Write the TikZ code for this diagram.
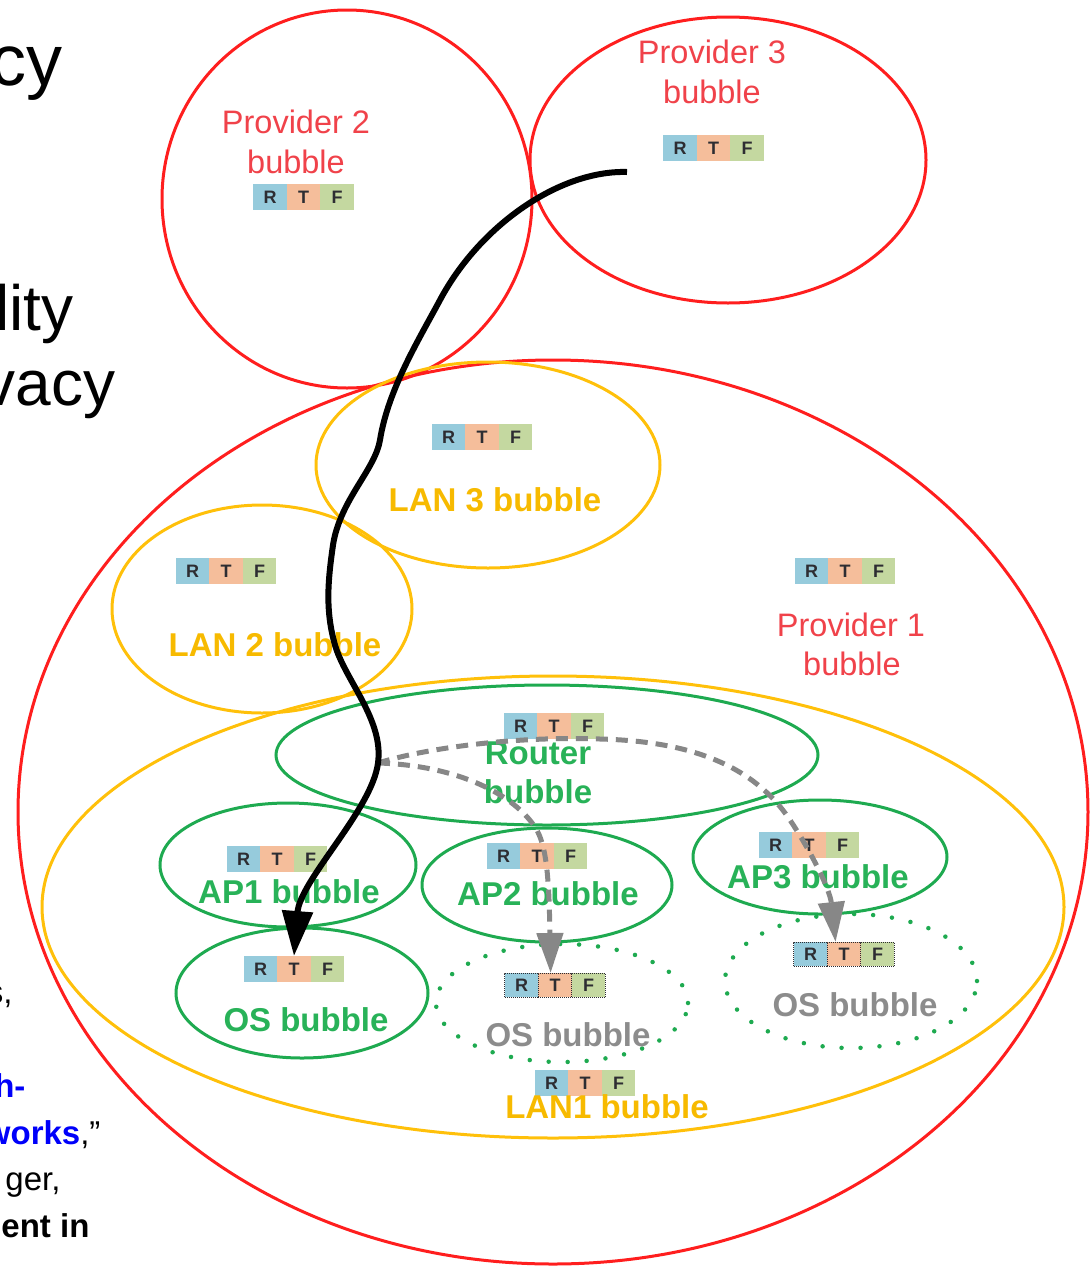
\documentclass[tikz,border=0pt]{standalone}
\usepackage{fontspec}
\setmainfont{Liberation Sans}
\usetikzlibrary{shapes.geometric,arrows.meta,calc}
\definecolor{cRed}{RGB}{255,30,30}
\definecolor{cRedT}{RGB}{240,66,74}
\definecolor{cYel}{RGB}{255,192,10}
\definecolor{cYelT}{RGB}{247,186,0}
\definecolor{cGrn}{RGB}{30,170,80}
\definecolor{cGrnT}{RGB}{40,178,88}
\definecolor{cGry}{RGB}{135,135,135}
\definecolor{cGryT}{RGB}{140,140,140}
\definecolor{cR}{RGB}{150,203,220}
\definecolor{cT}{RGB}{245,190,155}
\definecolor{cF}{RGB}{196,216,160}
\definecolor{cLet}{RGB}{45,45,50}
\definecolor{cBlue}{RGB}{0,0,250}
\tikzset{
  ringred/.style={ellipse, draw=cRed, line width=3pt, inner sep=0pt},
  ringyel/.style={ellipse, draw=cYel, line width=3pt, inner sep=0pt},
  ringgrn/.style={ellipse, draw=cGrn, line width=3pt, inner sep=0pt},
  ringdot/.style={ellipse, draw=cGrn, line width=4.5pt, line cap=round, dash pattern=on 0pt off 19pt, inner sep=0pt},
  lblred/.style={anchor=base, text=cRedT, font=\fontsize{32.5}{39}\selectfont},
  lblyel/.style={anchor=base, text=cYelT, font=\fontsize{33}{39}\selectfont\bfseries},
  lblgrn/.style={anchor=base, text=cGrnT, font=\fontsize{33}{39}\selectfont\bfseries},
  lblgry/.style={anchor=base, text=cGryT, font=\fontsize{33}{39}\selectfont\bfseries},
  cell/.style={minimum width=33.5pt, minimum height=26pt, inner sep=0pt, outer sep=0pt, text=cLet, font=\fontsize{18}{18}\selectfont\bfseries},
  dcell/.style={cell, minimum height=24pt, draw=cLet, densely dotted, line width=1pt},
  flow/.style={draw=black, line width=6pt, -{Triangle[length=45pt,width=30pt]}},
  gflow/.style={draw=cGry, line width=5pt, dash pattern=on 12pt off 8pt, -{Triangle[length=40pt,width=26pt]}},
  slidebig/.style={anchor=base east, font=\fontsize{72}{80}\selectfont},
  slidemid/.style={anchor=base east, font=\fontsize{64}{74}\selectfont},
  slidesmall/.style={anchor=base east, font=\fontsize{33}{40}\selectfont},
}
\newcommand{\rtfbox}[4][cell]{%
  \node[#1, fill=cT] (#2-t) at (#3,#4) {T};
  \node[#1, fill=cR, anchor=east] (#2-r) at (#2-t.west) {R};
  \node[#1, fill=cF, anchor=west] (#2-f) at (#2-t.east) {F};
}
\begin{document}
\begin{tikzpicture}[x=1pt,y=-1pt]
\useasboundingbox (0,0) rectangle (1090,1267);

% slide text fragments at the left
\node[slidebig] (s1) at (66,85) {cy};
\node[slidemid] (s2) at (77,330) {lity};
\node[slidemid] (s3) at (119,405) {vacy};
\node[slidesmall] (s4) at (16,1003) {s,};
\node[slidesmall] (s5) at (6,1050) {,};
\node[slidesmall, text=cBlue, font=\fontsize{33}{40}\selectfont\bfseries] (s6) at (29,1097) {h-};
\node[slidesmall] (s7) at (104,1144) {\textcolor{cBlue}{\bfseries works},”};
\node[slidesmall] (s8) at (64,1190) {ger,};
\node[slidesmall, font=\fontsize{33}{40}\selectfont\bfseries] (s9) at (93,1237) {ent in};

% bubbles
\node[ringred, minimum width=370pt, minimum height=378pt] (prov2) at (347,199) {};
\node[ringred, minimum width=396pt, minimum height=286pt] (prov3) at (728,160) {};
\node[ringred, minimum width=1070pt, minimum height=904pt] (prov1) at (553,812) {};
\node[ringyel, minimum width=344pt, minimum height=206pt] (lan3) at (488,465) {};
\node[ringyel, minimum width=300pt, minimum height=208pt] (lan2) at (262,609) {};
\node[ringyel, minimum width=1022pt, minimum height=462pt] (lan1) at (553,907) {};
\node[ringgrn, minimum width=542pt, minimum height=140pt] (router) at (547,755) {};
\node[ringgrn, minimum width=256pt, minimum height=124pt] (ap1) at (288,865) {};
\node[ringgrn, minimum width=250pt, minimum height=114pt] (ap2) at (547,885) {};
\node[ringgrn, minimum width=254pt, minimum height=114pt] (ap3) at (820,857) {};
\node[ringgrn, minimum width=252pt, minimum height=130pt] (os1) at (302,993) {};
\node[ringdot, minimum width=252pt, minimum height=118pt] (os2) at (562,1003) {};
\node[ringdot, minimum width=252pt, minimum height=134pt] (os3) at (851,981) {};

% RTF boxes
\rtfbox{rp2}{303.5}{197}
\rtfbox{rp3}{713.5}{148}
\rtfbox{rl3}{482}{437}
\rtfbox{rl2}{226}{571}
\rtfbox{rp1}{845}{571}
\rtfbox{rrt}{554}{726}
\rtfbox{rap1}{277}{859}
\rtfbox{rap2}{537}{856}
\rtfbox{rap3}{809}{845}
\rtfbox{ros1}{294}{969}
\rtfbox[dcell]{ros2}{555}{985}
\rtfbox[dcell]{ros3}{844}{954}
\rtfbox{rl1}{585}{1083}

% labels
\node[lblred] (tp2a) at (296,133) {Provider 2};
\node[lblred] (tp2b) at (296,173) {bubble};
\node[lblred] (tp3a) at (712,63) {Provider 3};
\node[lblred] (tp3b) at (712,103) {bubble};
\node[lblred] (tp1a) at (851,636) {Provider 1};
\node[lblred] (tp1b) at (852,675) {bubble};
\node[lblyel] (tl3) at (495,511) {LAN 3 bubble};
\node[lblyel] (tl2) at (275,656) {LAN 2 bubble};
\node[lblyel] (tl1) at (607,1118) {LAN1 bubble};
\node[lblgrn] (trta) at (538,764) {Router};
\node[lblgrn] (trtb) at (538,803) {bubble};
\node[lblgrn] (tap1) at (289,903) {AP1 bubble};
\node[lblgrn] (tap2) at (548,905) {AP2 bubble};
\node[lblgrn] (tap3) at (818,888) {AP3 bubble};
\node[lblgrn] (tos1) at (306,1031) {OS bubble};
\node[lblgry] (tos2) at (568,1046) {OS bubble};
\node[lblgry] (tos3) at (855,1016) {OS bubble};

% connectors
\coordinate (cstart) at (627,172);
\coordinate (split) at (378,763);
\draw[gflow] (split) .. controls (450,765) and (510,790) .. (535,827)
  .. controls (547,845) and (549,880) .. (ros2-t.110);
\draw[gflow] (split) .. controls (430,747) and (520,736) .. (600,739)
  .. controls (680,741) and (750,760) .. (790,820)
  .. controls (812,853) and (830,890) .. (ros3-t.125);
\draw[flow] (cstart) .. controls (560,170) and (480,225) .. (440,300)
  .. controls (418,341) and (388,390) .. (380,440)
  .. controls (375,470) and (340,500) .. (333,545)
  .. controls (328,580) and (325,610) .. (335,645)
  .. controls (345,680) and (384,720) .. (split)
  .. controls (372,810) and (300,880) .. (ros1-t.north);
\end{tikzpicture}
\end{document}
